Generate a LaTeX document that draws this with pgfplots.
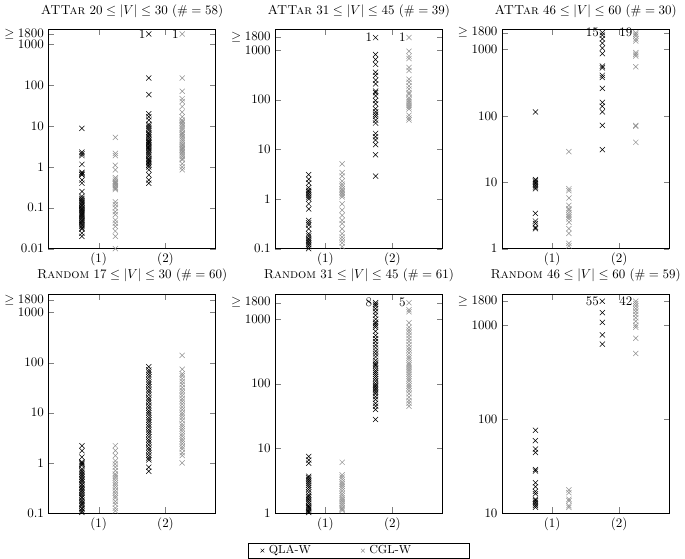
\documentclass[border=0pt]{standalone}
\usepackage{pgfplots}
\pgfplotsset{compat=1.18}
\usepgfplotslibrary{groupplots}
\definecolor{cglgray}{RGB}{145,145,145}

\pgfplotsset{
  panel/.style={
    width=129pt, height=169pt, scale only axis,
    ymode=log, xmin=0, xmax=5,
    xtick={1.5,3.5}, xticklabels={(1),(2)},
    tick align=inside, yminorticks=false,
    clip=false,
  },
  qla/.style={only marks, mark=x, mark size=2.8pt, black},
  cgl/.style={only marks, mark=x, mark size=2.8pt, cglgray},
}

\begin{document}
\begin{tikzpicture}
\begin{groupplot}[
  group style={group size=3 by 2, horizontal sep=46pt, vertical sep=35pt},
  panel,
]
% ---- ATTar 20-30
\nextgroupplot[title={\textsc{ATTar} $20 \leq |V| \leq 30$ $(\# = 58)$},
  ymin=0.01, ymax=2300,
  ytick={0.01,0.1,1,10,100,1000,1800},
  yticklabels={0.01,0.1,1,10,100,1000,$\geq 1800$}]
\addplot[qla] coordinates {
 (1,8.8) (1,2.3) (1,2.1) (1,1.9) (1,1.16) (1,0.74) (1,0.7) (1,0.66) (1,0.64) (1,0.48)
 (1,0.4) (1,0.25) (1,0.19) (1,0.17) (1,0.16) (1,0.15) (1,0.14) (1,0.13) (1,0.12) (1,0.115)
 (1,0.11) (1,0.1) (1,0.095) (1,0.09) (1,0.085) (1,0.08) (1,0.075) (1,0.07) (1,0.066) (1,0.062)
 (1,0.058) (1,0.055) (1,0.05) (1,0.047) (1,0.044) (1,0.041) (1,0.038) (1,0.035) (1,0.032) (1,0.03)
 (1,0.024) (1,0.02)
};
\addplot[cgl] coordinates {
 (2,5.3) (2,2.15) (2,1.9) (2,1.1) (2,0.85) (2,0.55) (2,0.5) (2,0.45) (2,0.42) (2,0.4)
 (2,0.38) (2,0.35) (2,0.32) (2,0.3) (2,0.28) (2,0.14) (2,0.12) (2,0.1) (2,0.08) (2,0.068)
 (2,0.05) (2,0.042) (2,0.035) (2,0.027) (2,0.02) (2,0.01)
};
\addplot[qla] coordinates {
 (3,1800) (3,150) (3,59) (3,20) (3,17) (3,14) (3,11) (3,10) (3,9) (3,8) (3,7) (3,6.5)
 (3,6) (3,5.5) (3,5) (3,4.5) (3,4.2) (3,4) (3,3.8) (3,3.5) (3,3.2) (3,3) (3,2.8) (3,2.6)
 (3,2.4) (3,2.2) (3,2) (3,1.8) (3,1.6) (3,1.5) (3,1.4) (3,1.3) (3,1.2) (3,1.1) (3,1.0)
 (3,0.85) (3,0.64) (3,0.48) (3,0.4)
};
\addplot[cgl] coordinates {
 (4,1800) (4,150) (4,71) (4,47) (4,40) (4,30) (4,22) (4,17) (4,14) (4,13) (4,12) (4,11)
 (4,10) (4,9) (4,8) (4,7) (4,6.5) (4,6) (4,5.5) (4,5) (4,4.5) (4,4) (4,3.6) (4,3.3)
 (4,3) (4,2.8) (4,2.6) (4,2.4) (4,2.2) (4,2) (4,1.8) (4,1.6) (4,1.5) (4,1.2) (4,1.0) (4,0.85)
};
\node[anchor=east, inner sep=0pt, xshift=-2.5pt] at (axis cs:3,1800) {1};
\node[anchor=east, inner sep=0pt, xshift=-2.5pt] at (axis cs:4,1800) {1};

% ---- ATTar 31-45
\nextgroupplot[title={\textsc{ATTar} $31 \leq |V| \leq 45$ $(\# = 39)$},
  ymin=0.1, ymax=2600,
  ytick={0.1,1,10,100,1000,1800},
  yticklabels={0.1,1,10,100,1000,$\geq 1800$}]
\addplot[qla] coordinates {
 (1,3.1) (1,2.5) (1,2.1) (1,1.7) (1,1.5) (1,1.4) (1,1.3) (1,1.2) (1,1.1) (1,1.0)
 (1,0.8) (1,0.63) (1,0.37) (1,0.33) (1,0.3) (1,0.25) (1,0.2) (1,0.18) (1,0.16) (1,0.15)
 (1,0.14) (1,0.13) (1,0.12) (1,0.11) (1,0.1)
};
\addplot[cgl] coordinates {
 (2,5.1) (2,3.4) (2,2.9) (2,2.3) (2,2) (2,1.8) (2,1.6) (2,1.5) (2,1.4) (2,1.3)
 (2,1.2) (2,1.1) (2,0.8) (2,0.6) (2,0.47) (2,0.37) (2,0.32) (2,0.25) (2,0.2) (2,0.17)
 (2,0.15) (2,0.13) (2,0.11)
};
\addplot[qla] coordinates {
 (3,1800) (3,820) (3,650) (3,520) (3,360) (3,310) (3,250) (3,210) (3,150) (3,140)
 (3,120) (3,97) (3,83) (3,66) (3,57) (3,51) (3,46) (3,39) (3,34) (3,21) (3,18)
 (3,15.5) (3,12.5) (3,7.8) (3,2.9)
};
\addplot[cgl] coordinates {
 (4,1800) (4,955) (4,760) (4,680) (4,450) (4,390) (4,260) (4,225) (4,190) (4,165)
 (4,140) (4,130) (4,110) (4,100) (4,92) (4,85) (4,78) (4,72) (4,65) (4,49) (4,43) (4,39)
};
\node[anchor=east, inner sep=0pt, xshift=-2.5pt] at (axis cs:3,1800) {1};
\node[anchor=east, inner sep=0pt, xshift=-2.5pt] at (axis cs:4,1800) {1};

% ---- ATTar 46-60
\nextgroupplot[title={\textsc{ATTar} $46 \leq |V| \leq 60$ $(\# = 30)$},
  ymin=1, ymax=2000,
  ytick={1,10,100,1000,1800},
  yticklabels={1,10,100,1000,$\geq 1800$}]
\addplot[qla] coordinates {
 (1,115) (1,11) (1,10.5) (1,10) (1,9.5) (1,9) (1,8.5) (1,8) (1,3.4) (1,2.6)
 (1,2.4) (1,2.1) (1,2.0)
};
\addplot[cgl] coordinates {
 (2,29) (2,8) (2,7.5) (2,5.8) (2,4.5) (2,4) (2,3.8) (2,3.5) (2,3.2) (2,3)
 (2,2.8) (2,2.5) (2,2) (2,1.7) (2,1.2) (2,1.1)
};
\addplot[qla] coordinates {
 (3,1800) (3,1650) (3,1450) (3,1250) (3,1050) (3,870) (3,565) (3,530) (3,410) (3,380)
 (3,260) (3,160) (3,140) (3,115) (3,72) (3,31)
};
\addplot[cgl] coordinates {
 (4,1800) (4,1700) (4,1600) (4,1450) (4,1350) (4,900) (4,850) (4,800) (4,550)
 (4,72) (4,70) (4,40)
};
\node[anchor=east, inner sep=0pt, xshift=-2.5pt] at (axis cs:3,1800) {15};
\node[anchor=east, inner sep=0pt, xshift=-2.5pt] at (axis cs:4,1800) {19};

% ---- Random 17-30
\nextgroupplot[title={\textsc{Random} $17 \leq |V| \leq 30$ $(\# = 60)$},
  ymin=0.1, ymax=2350,
  ytick={0.1,1,10,100,1000,1800},
  yticklabels={0.1,1,10,100,1000,$\geq 1800$}]
\addplot[qla] coordinates {
 (1,2.2) (1,1.75) (1,1.3) (1,1.05) (1,1.0) (1,0.95) (1,0.89) (1,0.76) (1,0.7) (1,0.65)
 (1,0.6) (1,0.56) (1,0.52) (1,0.48) (1,0.45) (1,0.42) (1,0.38) (1,0.36) (1,0.33) (1,0.31)
 (1,0.29) (1,0.27) (1,0.25) (1,0.23) (1,0.21) (1,0.2) (1,0.18) (1,0.17) (1,0.16) (1,0.15)
 (1,0.14) (1,0.125) (1,0.12) (1,0.11) (1,0.103)
};
\addplot[cgl] coordinates {
 (2,2.2) (2,1.75) (2,1.4) (2,1.1) (2,0.95) (2,0.82) (2,0.7) (2,0.6) (2,0.55) (2,0.5)
 (2,0.45) (2,0.4) (2,0.36) (2,0.32) (2,0.28) (2,0.25) (2,0.22) (2,0.2) (2,0.17) (2,0.15)
 (2,0.125) (2,0.11)
};
\addplot[qla] coordinates {
 (3,83) (3,72) (3,65) (3,58) (3,52) (3,46) (3,41) (3,37) (3,33) (3,29) (3,26) (3,23)
 (3,20) (3,18) (3,16) (3,14) (3,12.5) (3,11) (3,10) (3,9) (3,8) (3,7.2) (3,6.5) (3,5.8)
 (3,5.2) (3,4.6) (3,4.1) (3,3.7) (3,3.3) (3,2.9) (3,2.6) (3,2.3) (3,2.0) (3,1.8) (3,1.6)
 (3,1.4) (3,1.25) (3,1.15) (3,0.82) (3,0.68)
};
\addplot[cgl] coordinates {
 (4,140) (4,74) (4,60) (4,55) (4,48) (4,42) (4,37) (4,32) (4,28) (4,25) (4,22) (4,19)
 (4,17) (4,15) (4,13) (4,11.5) (4,10) (4,9) (4,8) (4,7) (4,6) (4,5.4) (4,4.8) (4,4.3)
 (4,3.8) (4,3.4) (4,3) (4,2.7) (4,2.4) (4,2.1) (4,1.9) (4,1.6) (4,1.4) (4,1.0)
};

% ---- Random 31-45
\nextgroupplot[title={\textsc{Random} $31 \leq |V| \leq 45$ $(\# = 61)$},
  ymin=1, ymax=2450,
  ytick={1,10,100,1000,1800},
  yticklabels={1,10,100,1000,$\geq 1800$},
  legend style={at={(0.5,-0.135)}, anchor=north, legend columns=2, draw=black,
    font=\small, inner ysep=0.5pt, nodes={inner ysep=1.5pt},
    /tikz/every even column/.append style={column sep=30pt}},
  legend cell align=left,
  legend image code/.code={
    \path[draw=none] (-5pt,0pt) -- (6pt,0pt);
    \draw[mark size=2pt] plot[only marks] coordinates {(3pt,0pt)};
  }]
\addplot[qla] coordinates {
 (1,7.5) (1,6.6) (1,5.9) (1,3.7) (1,3.5) (1,3.3) (1,3.1) (1,2.9) (1,2.7) (1,2.5)
 (1,2.3) (1,2.1) (1,1.9) (1,1.8) (1,1.7) (1,1.6) (1,1.5) (1,1.4) (1,1.3) (1,1.25)
 (1,1.2) (1,1.15) (1,1.1) (1,1.05) (1,1.02)
};
\addplot[cgl] coordinates {
 (2,6.1) (2,3.9) (2,3.6) (2,3.3) (2,3) (2,2.8) (2,2.6) (2,2.4) (2,2.2) (2,2)
 (2,1.85) (2,1.7) (2,1.6) (2,1.5) (2,1.4) (2,1.3) (2,1.2) (2,1.15) (2,1.1)
};
\addplot[qla, forget plot] coordinates {
 (3,1800) (3,1700) (3,1600) (3,1450) (3,1300) (3,1150) (3,1000) (3,900) (3,850) (3,800)
 (3,750) (3,650) (3,560) (3,500) (3,450) (3,400) (3,360) (3,320) (3,290) (3,260)
 (3,230) (3,210) (3,200) (3,190) (3,175) (3,160) (3,150) (3,140) (3,130) (3,120)
 (3,110) (3,100) (3,95) (3,90) (3,85) (3,80) (3,75) (3,70) (3,63) (3,57) (3,50)
 (3,45) (3,40) (3,28)
};
\addplot[cgl, forget plot] coordinates {
 (4,1800) (4,1400) (4,1300) (4,880) (4,750) (4,680) (4,620) (4,560) (4,500) (4,450)
 (4,400) (4,360) (4,330) (4,300) (4,270) (4,250) (4,230) (4,210) (4,195) (4,180)
 (4,170) (4,160) (4,150) (4,140) (4,130) (4,120) (4,110) (4,100) (4,92) (4,85)
 (4,78) (4,70) (4,62) (4,55) (4,50) (4,45)
};
\node[anchor=east, inner sep=0pt, xshift=-2.5pt] at (axis cs:3,1800) {8};
\node[anchor=east, inner sep=0pt, xshift=-2.5pt] at (axis cs:4,1800) {5};
\legend{QLA-W, CGL-W\hspace*{40pt}}

% ---- Random 46-60
\nextgroupplot[title={\textsc{Random} $46 \leq |V| \leq 60$ $(\# = 59)$},
  ymin=10, ymax=2150,
  ytick={10,100,1000,1800},
  yticklabels={10,100,1000,$\geq 1800$}]
\addplot[qla] coordinates {
 (1,76) (1,59) (1,48) (1,44) (1,29) (1,28) (1,21) (1,19) (1,17) (1,16)
 (1,14) (1,13.5) (1,13) (1,12.5) (1,12) (1,11.5)
};
\addplot[cgl] coordinates {
 (2,17.6) (2,16.5) (2,14) (2,13.5) (2,12) (2,11.5)
};
\addplot[qla] coordinates {
 (3,1800) (3,1360) (3,1070) (3,790) (3,630)
};
\addplot[cgl] coordinates {
 (4,1800) (4,1700) (4,1600) (4,1500) (4,1400) (4,1300) (4,1200) (4,1100) (4,1000)
 (4,950) (4,725) (4,500)
};
\node[anchor=east, inner sep=0pt, xshift=-2.5pt] at (axis cs:3,1800) {55};
\node[anchor=east, inner sep=0pt, xshift=-2.5pt] at (axis cs:4,1800) {42};
\end{groupplot}
\end{tikzpicture}
\end{document}
